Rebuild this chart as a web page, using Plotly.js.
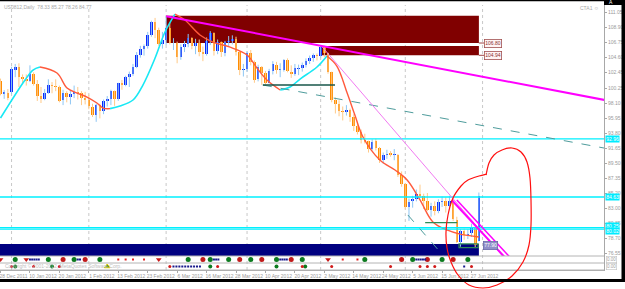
<!DOCTYPE html>
<html><head><meta charset="utf-8">
<script src="https://cdn.plot.ly/plotly-3.0.1.min.js"></script>
<style>html,body{margin:0;padding:0;background:#fff;overflow:hidden}#chart{width:625px;height:289px}</style>
</head><body><div id="chart"></div>
<script>
// ---------- DATA ----------
const dates = ["28 Dec 2011","29 Dec 2011","30 Dec 2011","3 Jan 2012","4 Jan 2012","5 Jan 2012","6 Jan 2012","9 Jan 2012","10 Jan 2012","11 Jan 2012","12 Jan 2012","13 Jan 2012","16 Jan 2012","17 Jan 2012","18 Jan 2012","19 Jan 2012","20 Jan 2012","23 Jan 2012","24 Jan 2012","25 Jan 2012","26 Jan 2012","27 Jan 2012","30 Jan 2012","31 Jan 2012","1 Feb 2012","2 Feb 2012","3 Feb 2012","6 Feb 2012","7 Feb 2012","8 Feb 2012","9 Feb 2012","10 Feb 2012","13 Feb 2012","14 Feb 2012","15 Feb 2012","16 Feb 2012","17 Feb 2012","20 Feb 2012","21 Feb 2012","22 Feb 2012","23 Feb 2012","24 Feb 2012","27 Feb 2012","28 Feb 2012","29 Feb 2012","1 Mar 2012","2 Mar 2012","5 Mar 2012","6 Mar 2012","7 Mar 2012","8 Mar 2012","9 Mar 2012","12 Mar 2012","13 Mar 2012","14 Mar 2012","15 Mar 2012","16 Mar 2012","19 Mar 2012","20 Mar 2012","21 Mar 2012","22 Mar 2012","23 Mar 2012","26 Mar 2012","27 Mar 2012","28 Mar 2012","29 Mar 2012","30 Mar 2012","2 Apr 2012","3 Apr 2012","4 Apr 2012","5 Apr 2012","9 Apr 2012","10 Apr 2012","11 Apr 2012","12 Apr 2012","13 Apr 2012","16 Apr 2012","17 Apr 2012","18 Apr 2012","19 Apr 2012","20 Apr 2012","23 Apr 2012","24 Apr 2012","25 Apr 2012","26 Apr 2012","27 Apr 2012","30 Apr 2012","1 May 2012","2 May 2012","3 May 2012","4 May 2012","7 May 2012","8 May 2012","9 May 2012","10 May 2012","11 May 2012","14 May 2012","15 May 2012","16 May 2012","17 May 2012","18 May 2012","21 May 2012","22 May 2012","23 May 2012","24 May 2012","25 May 2012","28 May 2012","29 May 2012","30 May 2012","31 May 2012","1 Jun 2012","4 Jun 2012","5 Jun 2012","6 Jun 2012","7 Jun 2012","8 Jun 2012","11 Jun 2012","12 Jun 2012","13 Jun 2012","14 Jun 2012","15 Jun 2012","18 Jun 2012","19 Jun 2012","20 Jun 2012","21 Jun 2012","22 Jun 2012","25 Jun 2012","26 Jun 2012","27 Jun 2012","28 Jun 2012","29 Jun 2012"];
const openP  = [101.30,99.40,99.60,99.70,102.90,103.20,101.80,101.60,101.30,102.20,100.80,99.10,98.70,99.60,100.70,100.60,100.40,98.50,99.60,98.90,99.40,99.70,99.50,98.80,98.50,97.60,96.40,97.80,96.90,98.40,98.70,99.80,98.70,100.90,100.70,101.80,102.30,103.30,105.00,105.80,106.30,107.80,109.70,108.50,106.50,107.10,108.80,106.70,106.70,104.70,106.10,106.60,107.40,106.30,106.70,105.40,105.10,107.00,108.10,105.60,106.80,105.30,106.80,107.00,107.30,105.40,102.80,103.00,105.20,104.00,101.50,103.30,102.40,101.00,102.70,103.60,102.80,102.90,104.20,102.60,102.30,103.00,103.10,103.50,104.10,104.50,104.90,104.80,106.10,105.20,102.50,98.50,97.90,97.00,96.80,97.10,96.10,94.80,94.00,92.80,92.60,91.50,92.60,91.60,89.90,90.70,90.90,90.70,90.70,87.80,86.50,83.20,84.00,84.30,85.00,84.80,84.10,82.70,83.30,82.60,83.90,84.00,83.30,84.00,81.40,78.20,79.70,79.20,79.40,80.20,78.33];
const highP  = [101.60,99.95,100.10,103.30,103.70,103.80,102.20,102.20,103.50,102.50,101.40,100.40,100.10,101.50,101.10,101.50,100.60,100.00,99.80,99.90,100.60,100.40,99.80,99.70,99.30,98.00,98.00,98.00,98.60,99.10,100.00,99.90,101.00,101.40,102.00,102.60,103.70,105.40,106.30,106.50,108.30,109.90,110.30,108.90,108.30,110.55,109.60,107.40,106.90,106.50,107.00,108.00,107.50,107.30,107.20,106.20,107.50,108.40,108.20,107.20,106.90,107.00,107.70,107.80,107.60,105.50,103.70,105.50,105.70,104.20,103.60,103.40,102.70,103.00,104.10,104.00,103.80,104.40,104.50,103.50,103.70,103.60,103.90,104.50,104.90,105.20,105.20,106.40,106.30,105.30,102.60,98.90,98.50,97.60,97.80,97.30,96.50,95.40,94.30,93.70,92.70,92.90,93.00,91.80,91.00,91.40,91.20,91.50,90.80,88.30,86.60,84.40,84.80,85.70,86.40,85.10,85.20,83.80,84.00,84.30,84.70,84.60,84.80,84.40,81.80,80.00,80.10,80.00,80.80,80.30,85.27];
const lowP   = [99.20,98.70,98.50,99.40,101.80,100.40,100.90,100.60,101.10,100.60,98.40,98.10,98.50,99.40,99.50,99.80,98.20,97.80,98.20,97.90,98.80,98.60,97.80,97.90,97.20,96.10,95.40,95.90,96.50,97.60,97.80,97.70,98.40,100.00,100.50,100.40,102.00,103.10,104.60,104.90,105.90,107.60,107.40,106.30,105.90,106.40,106.50,105.70,103.80,104.30,105.40,106.10,105.80,105.10,104.80,104.10,104.90,106.40,104.90,105.10,104.70,104.80,106.20,106.50,104.90,102.10,101.90,102.60,103.50,101.00,101.20,100.70,100.70,100.90,102.20,102.30,101.80,102.60,102.50,101.70,102.00,102.10,102.60,103.20,103.70,104.00,104.20,104.60,104.70,102.30,98.20,96.60,96.20,95.60,96.30,95.40,94.10,93.60,92.30,92.30,91.00,91.30,91.30,89.50,89.40,90.10,90.40,89.90,87.50,86.10,82.90,81.20,83.10,84.00,84.50,82.90,82.60,81.80,82.00,82.30,83.20,82.40,82.90,81.20,78.00,77.50,78.50,78.60,78.90,77.30,78.26];
const closeP = [99.36,99.65,98.83,102.96,103.22,101.81,101.56,101.31,102.24,100.87,99.10,98.70,99.60,100.71,100.59,100.39,98.46,99.58,98.95,99.40,99.70,99.56,98.78,98.48,97.61,96.36,97.84,96.91,98.41,98.70,99.84,98.67,100.91,100.74,101.80,102.31,103.24,105.00,105.84,106.28,107.83,109.77,108.56,106.55,107.07,108.84,106.70,106.72,104.70,106.16,106.58,107.40,106.34,106.71,105.43,105.11,107.06,108.09,105.61,106.81,105.35,106.87,107.03,107.33,105.41,102.78,103.02,105.23,104.01,101.47,103.31,102.46,101.02,102.70,103.64,102.83,102.93,104.20,102.67,102.27,103.05,103.11,103.55,104.12,104.55,104.93,104.87,106.16,105.22,102.54,98.49,97.94,97.01,96.81,97.08,96.13,94.78,93.98,92.81,92.56,91.48,92.57,91.66,89.90,90.66,90.86,90.70,90.76,87.82,86.53,83.23,83.98,84.29,85.02,84.82,84.10,82.70,83.32,82.62,83.91,84.03,83.27,84.03,81.45,78.20,79.76,79.21,79.36,80.21,77.69,84.77];

// smoothed trend MA (bar index, price)
const maX = [0,6.66,8.83,10.73,15.35,18.07,20.79,23.5,26.2,27.85,29.76,32.47,36.0,38.7,42.0,44.7,47.4,50.1,54.2,57.7,62.4,67.0,69.7,72.4,76.0,78.7,81.4,86.0,88.7,91.4,94.2,96.3,98.5,103.1,107.2,110.5,114.0,117.5,121.3,124.9,130];
const maY = [95.95,101.4,102.83,103.26,102.4,100.25,99.53,98.96,98.1,97.38,97.3,97.67,98.53,100.68,104.55,108.28,110.85,110.0,107.85,106.84,106.1,104.98,103.1,101.4,99.96,100.4,101.54,103.26,104.84,103.4,99.53,96.38,93.23,89.93,88.5,87.06,84.2,81.04,79.9,79.3,78.9];

const priceTicks = [111.05,108.90,106.75,104.60,102.45,100.25,98.10,95.95,93.80,91.65,89.50,87.35,85.20,83.00,80.85,78.70,76.55];
const hLines = [92.96,84.63,80.25,80.02];
const hLineLabels = ["92.96","84.63","80.25","80.02"];
const zones = [ {x0:45,x1:130,y0:106.70,y1:110.61,label:"106.80"}, {x0:87,x1:130,y0:104.94,y1:106.27,label:"104.94"} ];
const bandTop = 77.90;
const header = "US0812,Daily  78.33 85.27 78.26 84.77";

// indicator rows (bar indices)
const r1TriRed = [0,7,43,89];
const r1Green = [4,13,20,27,51,57,62,68,75,82,99,112,120,127];
const r1Red = [17,23,55,65,71,79,109,116,123];
const r1RedDot = [32,34,36,39,93,97];
const r1Navy = [8,8.6,9.2,9.8,10.4,21,21.6,58,58.6,59.2,76,76.6,77.2,77.8,113,113.6,114.2,114.8,115.4];
const r2Green = [4,14,57,75,82.8];
const r2GreenTri = [29];
const r2Red = [3,9,16,46,59,82,90,106,114,116,118,128];
const r2Navy = [47,47.8,48.6,49.4,50.2,51,51.8,52.6,53.4,54.2,126];

// ---------- BUILD ----------
const N = dates.length;
const idx = dates.map((d,i)=>i);
const up = idx.filter(i=>closeP[i]>=openP[i]), dn = idx.filter(i=>closeP[i]<openP[i]);
function wick(list){const x=[],y=[];list.forEach(i=>{x.push(i,i,null);y.push(lowP[i],highP[i],null);});return {x,y};}
function body(list){return {x:list, base:list.map(i=>Math.min(openP[i],closeP[i])), y:list.map(i=>Math.max(Math.abs(closeP[i]-openP[i]),0.06))};}
const wu=wick(up), wd=wick(dn), bu=body(up), bd=body(dn);
const BULL='#0a28ff', BULLW='#8ec6f4', BEAR='#ff8c00', BEARW='#ffc987';

const upX=[],upY=[],dnX=[],dnY=[];
let k=1;
while(k<maX.length){
  const dir = maY[k]>maY[k-1];
  const tx = dir?upX:dnX, ty = dir?upY:dnY;
  tx.push(maX[k-1]); ty.push(maY[k-1]);
  while(k<maX.length && (maY[k]>maY[k-1])===dir){tx.push(maX[k]);ty.push(maY[k]);k++;}
  tx.push(null);ty.push(null);
}

const traces = [
 {type:'scatter',mode:'lines',x:wu.x,y:wu.y,line:{color:BULLW,width:1},hoverinfo:'skip'},
 {type:'scatter',mode:'lines',x:wd.x,y:wd.y,line:{color:BEARW,width:1},hoverinfo:'skip'},
 {type:'bar',x:bu.x,y:bu.y,base:bu.base,width:0.7,marker:{color:BULL,line:{width:0}}},
 {type:'bar',x:bd.x,y:bd.y,base:bd.base,width:0.7,marker:{color:BEAR,line:{width:0}}},
 {type:'scatter',mode:'lines',x:upX,y:upY,line:{color:'#18e8f4',width:1.6,shape:'spline',smoothing:1},connectgaps:false},
 {type:'scatter',mode:'lines',x:dnX,y:dnY,line:{color:'#ff5a3c',width:1.4,shape:'spline',smoothing:1},connectgaps:false},
 {type:'scatter',mode:'markers',x:r1TriRed,y:r1TriRed.map(()=>0.5),yaxis:'y2',marker:{symbol:'triangle-down',size:5,color:'#c81818'}},
 {type:'scatter',mode:'markers',x:r1Green,y:r1Green.map(()=>0.5),yaxis:'y2',marker:{symbol:'circle',size:5,color:'#0b7a1e'}},
 {type:'scatter',mode:'markers',x:r1Red,y:r1Red.map(()=>0.5),yaxis:'y2',marker:{symbol:'circle',size:5,color:'#c01a1a'}},
 {type:'scatter',mode:'markers',x:r1RedDot,y:r1RedDot.map(()=>0.5),yaxis:'y2',marker:{symbol:'square',size:2,color:'#e02020'}},
 {type:'scatter',mode:'markers',x:r1Navy,y:r1Navy.map(()=>0.5),yaxis:'y2',marker:{symbol:'square',size:2,color:'#1a1a8c'}},
 {type:'scatter',mode:'markers',x:r2Green,y:r2Green.map(()=>0.5),yaxis:'y3',marker:{symbol:'circle',size:4,color:'#0b7a1e'}},
 {type:'scatter',mode:'markers',x:r2GreenTri,y:r2GreenTri.map(()=>0.5),yaxis:'y3',marker:{symbol:'triangle-up',size:5,color:'#0b7a1e',line:{color:'#e8d000',width:1}}},
 {type:'scatter',mode:'markers',x:r2Red,y:r2Red.map(()=>0.5),yaxis:'y3',marker:{symbol:'circle',size:3,color:'#d01a1a'}},
 {type:'scatter',mode:'markers',x:r2Navy,y:r2Navy.map(()=>0.5),yaxis:'y3',marker:{symbol:'square',size:2,color:'#1a1a8c'}}
];

// ---------- LAYOUT ----------
const PW=604, PT=5, PB=270, PH=PB-PT;
const px2p = (x,y)=>[x/PW,(PB-y)/PH];
const shapes=[];
const monthStarts = idx.filter(i=>i>0 && dates[i].split(' ')[1]!==dates[i-1].split(' ')[1]);
monthStarts.push(N);
monthStarts.forEach(i=>shapes.push({type:'line',layer:'below',xref:'x',yref:'paper',x0:i,x1:i,y0:0,y1:1,line:{color:'#c8c8c8',width:1,dash:'dot'}}));
shapes.push({type:'rect',layer:'below',xref:'x',yref:'y',x0:-2,x1:130,y0:70,y1:bandTop,fillcolor:'#000080',line:{width:0}});
zones.forEach(z=>{
 shapes.push({type:'rect',layer:'below',xref:'x',yref:'y',x0:z.x0,x1:z.x1,y0:z.y0,y1:z.y1,fillcolor:'#800000',line:{width:0}});
 shapes.push({type:'line',xref:'x',yref:'y',x0:z.x1,x1:z.x1+1.4,y0:z.y0,y1:z.y0,line:{color:'#a04848',width:1}});
});
hLines.forEach(v=>shapes.push({type:'line',xref:'paper',yref:'y',x0:0,x1:1,y0:v,y1:v,line:{color:'#00f0ff',width:1.3}}));
const seg=(x0,y0,x1,y1,color,width,dash)=>shapes.push({type:'line',xref:'x',yref:'y',x0,y0,x1,y1,line:{color,width,dash:dash||'solid'}});
seg(71.3,100.68,164.5,91.60,'#4e9c9c',1,'dash');
seg(71.3,100.68,90.9,100.68,'#17564a',1.5);
seg(110.7,82.05,120.4,76.17,'#4e9c9c',1,'dash');
seg(87,106.4,137,75.8,'#f27af2',1);
seg(45,110.55,164.5,98.5,'#ff00ff',2);
seg(122.6,84.2,137.2,75.9,'#ff00ff',2);
seg(124.0,84.2,138.6,75.9,'#ff00ff',1.5);
seg(115.4,80.94,124.1,80.94,'#2e8b57',1.2);
shapes.push({type:'rect',xref:'x',yref:'y',x0:124.6,x1:129.8,y0:77.38,y1:77.9,line:{color:'#2e8b57',width:1.2}});
[256,263,270].forEach(y=>{const p=px2p(0,y);shapes.push({type:'line',xref:'paper',yref:'paper',x0:0,x1:1,y0:p[1],y1:p[1],line:{color:'#b4b4b4',width:1}});});
const circ=[[486,175],[489,163],[494,155],[502,150],[512,148],[521,152],[527,162],[530,178],[531,200],[531,225],[529,245],[523,262],[512,276],[497,285],[483,288],[469,285],[458,275],[451,262],[447,248],[446,232],[448,215],[453,198],[461,186],[468,180],[479,176],[487,174]];
let cp=circ.map(p=>px2p(p[0],p[1]));
let d='M'+cp[0][0]+','+cp[0][1];
for(let i=0;i<cp.length-1;i++){
 const p0=cp[Math.max(i-1,0)],p1=cp[i],p2=cp[i+1],p3=cp[Math.min(i+2,cp.length-1)];
 const c1=[p1[0]+(p2[0]-p0[0])/6,p1[1]+(p2[1]-p0[1])/6], c2=[p2[0]-(p3[0]-p1[0])/6,p2[1]-(p3[1]-p1[1])/6];
 d+=` C${c1[0]},${c1[1]} ${c2[0]},${c2[1]} ${p2[0]},${p2[1]}`;
}
shapes.push({type:'path',xref:'paper',yref:'paper',path:d,line:{color:'#ff1010',width:1.2}});
const fr=(x0,y0,x1,y1)=>{const a=px2p(x0,y0),b=px2p(x1,y1);shapes.push({type:'rect',xref:'paper',yref:'paper',x0:a[0],y0:a[1],x1:b[0],y1:b[1],fillcolor:'#000',line:{width:0}});};
fr(0,0,625,1.3); fr(621.5,0,625,281); fr(0,279,625,282); fr(604,0,622,5);

const ann=[];
const F='Liberation Sans, Arial, sans-serif';
const hp=px2p(2,7);
ann.push({xref:'paper',yref:'paper',x:hp[0],y:hp[1],xanchor:'left',yanchor:'middle',text:header,showarrow:false,font:{family:F,size:5,color:'#a8a8a8'}});
const cp2=px2p(601,8);
ann.push({xref:'paper',yref:'paper',x:cp2[0],y:cp2[1],xanchor:'right',yanchor:'middle',text:'CTA1 ☺',showarrow:false,font:{family:F,size:5,color:'#a8a8a8'}});
const ap=px2p(611,2.5);
ann.push({xref:'paper',yref:'paper',x:ap[0],y:ap[1],xanchor:'center',yanchor:'middle',text:'A',showarrow:false,font:{family:F,size:5,color:'#fff'}});
const crp=px2p(3,265.5);
ann.push({xref:'paper',yref:'paper',x:crp[0],y:crp[1],xanchor:'left',yanchor:'middle',text:'Copyright © 2001-2012, MetaQuotes Software Corp.',showarrow:false,font:{family:F,size:5,color:'#c0c0c0'}});
[259.5,266.5].forEach(y=>{const p=px2p(606,y);ann.push({xref:'paper',yref:'paper',x:p[0],y:p[1],xanchor:'left',yanchor:'middle',text:'0.00',showarrow:false,font:{family:F,size:4.5,color:'#a0a0a0'},bordercolor:'#c0c0c0',borderwidth:0.6,borderpad:0.3,bgcolor:'#fff'});});
zones.forEach(z=>ann.push({xref:'x',yref:'y',x:z.x1+1.4,y:z.y0,xanchor:'left',yanchor:'middle',text:z.label,showarrow:false,font:{family:F,size:5,color:'#8a3030'},bgcolor:'#fff4f4',bordercolor:'#a05050',borderwidth:0.8,borderpad:0.5}));
const hShift=[0,0,2,-2];
hLines.forEach((v,i)=>ann.push({xref:'paper',yref:'y',x:1,xshift:1,y:v,yshift:hShift[i],xanchor:'left',yanchor:'middle',text:hLineLabels[i],showarrow:false,font:{family:F,size:5,color:'#ffffff'},bgcolor:'#00ecff',borderpad:0.2}));
ann.push({xref:'x',yref:'y',x:131.2,y:77.65,xanchor:'left',yanchor:'middle',text:'77.90',showarrow:false,font:{family:F,size:5,color:'#fff'},bgcolor:'#9090c8',bordercolor:'#6a6aa8',borderwidth:0.8,borderpad:0.5});

const tickIdx = idx.filter(i=>i%8===0);
const layout = {
 width:625,height:289,margin:{l:0,r:21,t:PT,b:289-PB,pad:0},
 paper_bgcolor:'#fff',plot_bgcolor:'#fff',showlegend:false,barmode:'overlay',bargap:0,
 xaxis:{anchor:'y3',range:[-0.14,164],showgrid:false,zeroline:false,showline:true,linecolor:'#a8a8a8',linewidth:1,
   tickmode:'array',tickvals:tickIdx,ticktext:tickIdx.map(i=>dates[i]),ticks:'outside',ticklen:2,tickcolor:'#a8a8a8',
   tickangle:0,tickfont:{family:F,size:5,color:'#9a9a9a'},ticklabelshift:13,ticklabelstandoff:-1,ticklabeloverflow:'allow'},
 yaxis:{domain:[(PB-256)/PH,1],anchor:'x',side:'right',range:[76.17,112.15],showgrid:false,zeroline:false,showline:true,linecolor:'#a8a8a8',linewidth:1,
   tickmode:'array',tickvals:priceTicks,ticktext:priceTicks.map(v=>v.toFixed(2)),ticks:'outside',ticklen:2,tickcolor:'#a8a8a8',
   tickfont:{family:F,size:5,color:'#9a9a9a'}},
 yaxis2:{domain:[(PB-263)/PH,(PB-256)/PH],anchor:'x',side:'right',range:[0,1],showgrid:false,zeroline:false,showticklabels:false,showline:true,linecolor:'#a8a8a8'},
 yaxis3:{domain:[0,(PB-263)/PH],anchor:'x',side:'right',range:[0,1],showgrid:false,zeroline:false,showticklabels:false,showline:true,linecolor:'#a8a8a8'},
 shapes:shapes,annotations:ann
};
Plotly.newPlot('chart',traces,layout,{staticPlot:true,displayModeBar:false});
</script></body></html>
